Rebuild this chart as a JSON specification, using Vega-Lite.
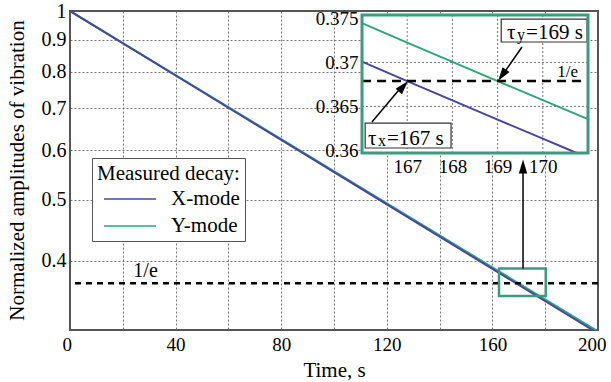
{
  "$schema": "https://vega.github.io/schema/vega-lite/v6.json",
  "width": 528,
  "height": 319,
  "autosize": {"type": "none"},
  "padding": {"left": 70, "top": 11, "right": 13, "bottom": 52},
  "background": "white",
  "config": {
    "view": {"stroke": "#555555", "strokeWidth": 2},
    "font": "Liberation Serif",
    "text": {"font": "Liberation Serif", "color": "black"}
  },
  "datasets": {
    "main": [
      {"mode": "Y-mode", "t": 0, "v": 1},
      {"mode": "Y-mode", "t": 40, "v": 0.7903},
      {"mode": "Y-mode", "t": 80, "v": 0.6246},
      {"mode": "Y-mode", "t": 120, "v": 0.4937},
      {"mode": "Y-mode", "t": 160, "v": 0.3902},
      {"mode": "Y-mode", "t": 200, "v": 0.3084},
      {"mode": "X-mode", "t": 0, "v": 1},
      {"mode": "X-mode", "t": 40, "v": 0.7892},
      {"mode": "X-mode", "t": 80, "v": 0.6229},
      {"mode": "X-mode", "t": 120, "v": 0.4916},
      {"mode": "X-mode", "t": 160, "v": 0.388},
      {"mode": "X-mode", "t": 200, "v": 0.3062}
    ],
    "insetY": [
      {"t": 166, "v": 0.37447},
      {"t": 167, "v": 0.37226},
      {"t": 168, "v": 0.37006},
      {"t": 169, "v": 0.36788},
      {"t": 170, "v": 0.36571},
      {"t": 171, "v": 0.36355}
    ],
    "insetX": [
      {"t": 166, "v": 0.37009},
      {"t": 167, "v": 0.36788},
      {"t": 168, "v": 0.36568},
      {"t": 169, "v": 0.3635},
      {"t": 170, "v": 0.36133},
      {"t": 170.75, "v": 0.3597}
    ],
    "gridT": [{"t": 167}, {"t": 168}, {"t": 169}, {"t": 170}],
    "gridV": [{"v": 0.365}, {"v": 0.37}],
    "one": [{}]
  },
  "resolve": {"scale": {"x": "independent", "y": "independent"}, "axis": {"x": "independent", "y": "independent"}},
  "layer": [
    {
      "layer": [
        {
          "data": {"name": "main"},
          "mark": {"type": "line", "strokeWidth": 2, "clip": true},
          "encoding": {
            "x": {
              "field": "t", "type": "quantitative",
              "scale": {"domain": [0, 200], "nice": false, "zero": false},
              "axis": {
                "values": [0, 20, 40, 60, 80, 100, 120, 140, 160, 180, 200],
                "labelExpr": "datum.value % 40 == 0 ? datum.label : ''",
                "grid": true, "gridDash": [2, 2], "gridColor": "#555555", "gridWidth": 1, "gridOpacity": 0.8,
                "domain": false, "ticks": false, "labelFlush": true, "labelFlushOffset": 8,
                "labelFont": "Liberation Serif", "labelColor": "black",
                "labelFontSize": 19, "labelPadding": 5,
                "title": "Time, s", "titleFont": "Liberation Serif", "titleColor": "black", "titleFontWeight": "normal",
                "titleFontSize": 21, "titleY": 46, "titleBaseline": "alphabetic"
              }
            },
            "y": {
              "field": "v", "type": "quantitative",
              "scale": {"type": "log", "domain": [0.31, 1], "nice": false},
              "axis": {
                "values": [0.4, 0.5, 0.6, 0.7, 0.8, 0.9, 1],
                "format": "~g",
                "grid": true, "gridDash": [2, 2], "gridColor": "#555555", "gridWidth": 1, "gridOpacity": 0.8,
                "domain": false, "ticks": false,
                "labelFont": "Liberation Serif", "labelColor": "black",
                "labelFontSize": 20, "labelPadding": 4,
                "title": "Normalized amplitudes of vibration", "titleFont": "Liberation Serif", "titleColor": "black", "titleFontWeight": "normal",
                "titleFontSize": 21,
                "titleX": -53, "titleY": 159, "titleBaseline": "middle", "titleAlign": "center", "titleAngle": -90
              }
            },
            "color": {
              "field": "mode", "type": "nominal",
              "scale": {"domain": ["X-mode", "Y-mode"], "range": ["#46479a", "#2ea67a"]},
              "legend": {
                "orient": "none", "legendX": 22, "legendY": 147,
                "title": "Measured decay:", "titleFont": "Liberation Serif", "titleFontSize": 21, "titleFontWeight": "normal", "titleColor": "black",
                "labelFont": "Liberation Serif", "labelFontSize": 21, "labelColor": "black",
                "symbolType": "M-2.6,0H2.6", "symbolSize": 400, "symbolStrokeWidth": 1.5, "symbolOffset": 22,
                "strokeColor": "#555555", "fillColor": "white", "padding": 5,
                "rowPadding": 6, "titlePadding": 4, "labelOffset": 30
              }
            }
          }
        },
        {
          "data": {"name": "one"},
          "mark": {"type": "rule", "strokeDash": [6, 5], "strokeWidth": 2.5, "color": "black"},
          "encoding": {"y": {"datum": 0.3679}}
        },
        {
          "data": {"name": "one"},
          "mark": {"type": "text", "text": "1/e", "fontSize": 20, "align": "left", "baseline": "alphabetic", "dy": -6},
          "encoding": {"x": {"datum": 24}, "y": {"datum": 0.3679}}
        },
        {
          "data": {"name": "one"},
          "mark": {"type": "rect", "fillOpacity": 0, "stroke": "#3d9a7d", "strokeWidth": 2.5},
          "encoding": {"x": {"datum": 162.5}, "x2": {"datum": 180.2}, "y": {"datum": 0.3885}, "y2": {"datum": 0.3513}}
        },
        {
          "data": {"name": "one"},
          "mark": {"type": "rule", "strokeWidth": 1.5, "color": "black"},
          "encoding": {"x": {"datum": 171.6}, "y": {"datum": 0.3885}, "y2": {"datum": 0.56}}
        },
        {
          "data": {"name": "one"},
          "mark": {"type": "point", "shape": "M0,-1L0.6,1L-0.6,1Z", "size": 196, "filled": true, "color": "black", "opacity": 1},
          "encoding": {"x": {"datum": 171.6}, "y": {"datum": 0.565}}
        }
      ]
    },
    {
      "layer": [
        {
          "data": {"name": "one"},
          "mark": {"type": "rect", "fill": "white", "strokeWidth": 0},
          "encoding": {"x": {"datum": 166}, "x2": {"datum": 171}, "y": {"datum": 0.3597}, "y2": {"datum": 0.3754}}
        },
        {
          "data": {"name": "gridT"},
          "mark": {"type": "rule", "strokeDash": [2, 2], "color": "#555555", "opacity": 0.8, "strokeWidth": 1},
          "encoding": {"x": {"field": "t", "type": "quantitative"}, "y": {"datum": 0.3597}, "y2": {"datum": 0.3754}}
        },
        {
          "data": {"name": "gridV"},
          "mark": {"type": "rule", "strokeDash": [2, 2], "color": "#555555", "opacity": 0.8, "strokeWidth": 1},
          "encoding": {"y": {"field": "v", "type": "quantitative"}, "x": {"datum": 166}, "x2": {"datum": 171}}
        },
        {
          "data": {"name": "insetX"},
          "mark": {"type": "line", "strokeWidth": 2, "color": "#46479a"},
          "encoding": {
            "x": {
              "field": "t", "type": "quantitative",
              "scale": {"domain": [166, 171], "range": [292, 518], "nice": false, "zero": false},
              "axis": {
                "orient": "bottom", "offset": -177, "values": [167, 168, 169, 170], "format": "d",
                "grid": false, "domain": false, "ticks": false, "labelFlush": false,
                "labelFont": "Liberation Serif", "labelColor": "black",
                "labelFontSize": 19, "labelPadding": 4, "title": null
              }
            },
            "y": {
              "field": "v", "type": "quantitative",
              "scale": {"domain": [0.3597, 0.3754], "range": [142, 4], "nice": false, "zero": false},
              "axis": {
                "orient": "left", "offset": -292, "values": [0.36, 0.365, 0.37, 0.375], "format": "~g",
                "grid": false, "domain": false, "ticks": false, "labelFlush": false,
                "labelFont": "Liberation Serif", "labelColor": "black",
                "labelFontSize": 19, "labelPadding": 4, "title": null
              }
            }
          }
        },
        {
          "data": {"name": "insetY"},
          "mark": {"type": "line", "strokeWidth": 2, "color": "#2ea67a"},
          "encoding": {"x": {"field": "t", "type": "quantitative"}, "y": {"field": "v", "type": "quantitative"}}
        },
        {
          "data": {"name": "one"},
          "mark": {"type": "rule", "strokeDash": [9, 6], "strokeWidth": 2.5, "color": "black"},
          "encoding": {"x": {"datum": 166}, "x2": {"datum": 171}, "y": {"datum": 0.36788}}
        },
        {
          "data": {"name": "one"},
          "mark": {"type": "text", "text": "1/e", "fontSize": 17, "align": "right", "baseline": "alphabetic", "dy": -4},
          "encoding": {"x": {"datum": 170.78}, "y": {"datum": 0.36788}}
        },
        {
          "data": {"name": "one"},
          "mark": {"type": "rect", "fill": "white", "stroke": "#333333", "strokeWidth": 1.2},
          "encoding": {"x": {"datum": 166.07}, "x2": {"datum": 167.97}, "y": {"datum": 0.36027}, "y2": {"datum": 0.36311}}
        },
        {
          "data": {"name": "one"},
          "mark": {"type": "rect", "fill": "white", "stroke": "#333333", "strokeWidth": 1.2},
          "encoding": {"x": {"datum": 169.08}, "x2": {"datum": 170.98}, "y": {"datum": 0.37233}, "y2": {"datum": 0.37494}}
        },
        {
          "data": {"name": "one"},
          "mark": {"type": "rule", "strokeWidth": 1.5, "color": "black"},
          "encoding": {"x": {"datum": 166.22}, "y": {"datum": 0.36323}, "x2": {"datum": 166.9}, "y2": {"datum": 0.36738}}
        },
        {
          "data": {"name": "one"},
          "mark": {"type": "point", "shape": "M0,-1L0.6,1L-0.6,1Z", "size": 196, "filled": true, "color": "black", "opacity": 1, "angle": 41},
          "encoding": {"x": {"datum": 166.916}, "y": {"datum": 0.36729}}
        },
        {
          "data": {"name": "one"},
          "mark": {"type": "rule", "strokeWidth": 1.5, "color": "black"},
          "encoding": {"x": {"datum": 169.54}, "y": {"datum": 0.37176}, "x2": {"datum": 169.1}, "y2": {"datum": 0.3685}}
        },
        {
          "data": {"name": "one"},
          "mark": {"type": "point", "shape": "M0,-1L0.6,1L-0.6,1Z", "size": 196, "filled": true, "color": "black", "opacity": 1, "angle": 215},
          "encoding": {"x": {"datum": 169.098}, "y": {"datum": 0.36854}}
        },
        {
          "data": {"name": "one"},
          "mark": {"type": "text", "text": "τ", "fontSize": 21, "align": "left", "baseline": "alphabetic"},
          "encoding": {"x": {"datum": 166.13}, "y": {"datum": 0.36061}}
        },
        {
          "data": {"name": "one"},
          "mark": {"type": "text", "text": "x", "fontSize": 16, "align": "left", "baseline": "alphabetic", "dx": 10, "dy": 1},
          "encoding": {"x": {"datum": 166.13}, "y": {"datum": 0.36061}}
        },
        {
          "data": {"name": "one"},
          "mark": {"type": "text", "text": "=167 s", "fontSize": 21, "align": "left", "baseline": "alphabetic", "dx": 19},
          "encoding": {"x": {"datum": 166.13}, "y": {"datum": 0.36061}}
        },
        {
          "data": {"name": "one"},
          "mark": {"type": "text", "text": "τ", "fontSize": 21, "align": "left", "baseline": "alphabetic"},
          "encoding": {"x": {"datum": 169.21}, "y": {"datum": 0.37267}}
        },
        {
          "data": {"name": "one"},
          "mark": {"type": "text", "text": "y", "fontSize": 16, "align": "left", "baseline": "alphabetic", "dx": 10, "dy": 1},
          "encoding": {"x": {"datum": 169.21}, "y": {"datum": 0.37267}}
        },
        {
          "data": {"name": "one"},
          "mark": {"type": "text", "text": "=169 s", "fontSize": 21, "align": "left", "baseline": "alphabetic", "dx": 19},
          "encoding": {"x": {"datum": 169.21}, "y": {"datum": 0.37267}}
        },
        {
          "data": {"name": "one"},
          "mark": {"type": "rect", "fillOpacity": 0, "stroke": "#3d9a7d", "strokeWidth": 3},
          "encoding": {"x": {"datum": 166}, "x2": {"datum": 171}, "y": {"datum": 0.3597}, "y2": {"datum": 0.3754}}
        }
      ]
    }
  ]
}
